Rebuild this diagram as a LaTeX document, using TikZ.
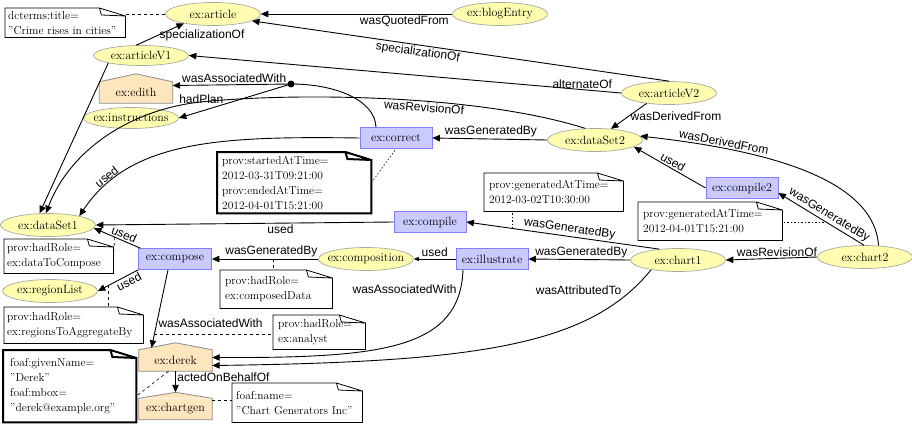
\documentclass[tikz,border=0pt]{standalone}
\usepackage{xcolor}
\usepackage{fontspec}
\setsansfont{Liberation Sans}
\usepackage{tikz}
\usetikzlibrary{arrows.meta,shapes.geometric}
\definecolor{entfill}{HTML}{FFFDB0}
\definecolor{entline}{HTML}{A8A8A0}
\definecolor{actfill}{HTML}{CACAFF}
\definecolor{actline}{HTML}{8080FF}
\definecolor{agtfill}{HTML}{FDE5BD}
\definecolor{agtline}{HTML}{8C8C8C}
\newcommand{\provtxt}{\fontsize{12}{15}\selectfont}
\newcommand{\provnote}{\fontsize{11.5}{15}\selectfont}
\newcommand{\provrel}{\sffamily\fontsize{12}{14}\selectfont}

\begin{document}
\begin{tikzpicture}[x=1pt,y=-1pt,
  ent/.style={ellipse, draw=entline, fill=entfill, line width=0.7pt, minimum width=95pt, minimum height=23pt, inner xsep=-8pt, inner ysep=0pt, font=\provtxt},
  act/.style={rectangle, draw=actline, fill=actfill, line width=0.8pt, minimum width=72pt, minimum height=21pt, inner sep=0pt, font=\provtxt},
  agt/.style={rectangle, fill=agtfill, minimum width=73pt, minimum height=21pt, inner sep=0pt, font=\provtxt},
  note/.style={rectangle, fill=white, anchor=north west, align=left, inner xsep=5pt, inner ysep=0pt, font=\provnote},
  lbl/.style={font=\provrel, inner sep=1.5pt},
  rel/.style={-{Triangle[length=7.5pt,width=6.5pt]}, line width=0.9pt},
  smalltip/.style={-{Triangle[length=5pt,width=4pt]}},
  link/.style={line width=0.6pt, dash pattern=on 3pt off 3pt},
  dotlink/.style={line width=0.6pt, dash pattern=on 1.5pt off 2pt}]
\useasboundingbox[fill=white] (0,0) rectangle (912,423);

%entities
\node[ent] (article) at (213,14) {ex:article};
\node[ent] (blogEntry) at (500,14) {ex:blogEntry};
\node[ent, minimum height=20pt] (articleV1) at (141,55.5) {ex:articleV1};
\node[ent] (articleV2) at (669,93) {ex:articleV2};
\node[ent, minimum height=21pt] (instructions) at (131,118) {ex:instructions};
\node[ent] (dataSet2) at (595,140) {ex:dataSet2};
\node[ent] (dataSet1) at (48,225) {ex:dataSet1};
\node[ent] (regionList) at (50,291) {ex:regionList};
\node[ent] (composition) at (366,259) {ex:composition};
\node[ent] (chart1) at (678,260) {ex:chart1};
\node[ent] (chart2) at (865,257) {ex:chart2};

%activities
\node[act] (correct) at (396,138) {ex:correct};
\node[act] (compile) at (430,222) {ex:compile};
\node[act] (compile2) at (742,188) {ex:compile2};
\node[act] (illustrate) at (492,259) {ex:illustrate};
\node[act, minimum width=73pt] (compose) at (175,259) {ex:compose};

%agents
\node[agt] (edith) at (136,92.5) {ex:edith};
\node[agt] (derek) at (175.5,360.5) {ex:derek};
\node[agt] (chartgen) at (175.5,409) {ex:chartgen};
\foreach \a/\r in {edith/8, derek/7, chartgen/6}{
  \fill[agtfill] (\a.north west) -- ([yshift=\r pt]\a.north) -- (\a.north east) -- cycle;
  \draw[agtline, line width=0.8pt] (\a.south west) -- (\a.north west) -- ([yshift=\r pt]\a.north) -- (\a.north east) -- (\a.south east) -- cycle;
}

%notes
\node[note, inner xsep=3pt, text width=114pt, minimum height=29pt] (nTitle) at (5,8) {dcterms:title=\\"Crime rises in cities"};
\node[note, text width=144pt, minimum height=61pt] (nTimes) at (217,152) {prov:startedAtTime=\\2012-03-31T09:21:00\\prov:endedAtTime=\\2012-04-01T15:21:00};
\node[note, text width=129pt, minimum height=38pt] (nGen1) at (484,173) {prov:generatedAtTime=\\2012-03-02T10:30:00};
\node[note, text width=134pt, minimum height=38pt] (nGen2) at (638,202) {prov:generatedAtTime=\\2012-04-01T15:21:00};
\node[note, inner xsep=3pt, text width=103pt, minimum height=34pt] (nToCompose) at (4,239) {prov:hadRole=\\ex:dataToCompose};
\node[note, inner xsep=3pt, text width=133pt, minimum height=36pt] (nRegions) at (4,307) {prov:hadRole=\\ex:regionsToAggregateBy};
\node[note, text width=102pt, minimum height=38pt] (nComposed) at (220,270) {prov:hadRole=\\ex:composedData};
\node[note, text width=82pt, minimum height=34pt] (nAnalyst) at (273,315) {prov:hadRole=\\ex:analyst};
\node[note, inner xsep=7pt, text width=119pt, minimum height=72pt] (nDerek) at (3,350) {foaf:givenName=\\"Derek"\\foaf:mbox=\\"derek@example.org"};
\node[note, inner xsep=4pt, text width=122pt, minimum height=39pt] (nChartgen) at (232,383) {foaf:name=\\"Chart Generators Inc"};
\foreach \n/\w in {nTitle/0.8, nTimes/2, nGen1/0.8, nGen2/0.8, nToCompose/0.8, nRegions/0.8, nComposed/0.8, nAnalyst/0.8, nDerek/2, nChartgen/0.8}{
  \draw[line width=\w pt] (\n.south west) -- (\n.north west) -- ([xshift=-26pt]\n.north east) -- ([yshift=-8pt]\n.north east) -- (\n.south east) -- cycle
    ([xshift=-26pt]\n.north east) -- ([xshift=-24pt,yshift=-7pt]\n.north east) -- ([yshift=-8pt]\n.north east);
}

%relations
\draw[rel] (blogEntry) -- node[lbl, below, pos=0.25] {wasQuotedFrom} (article);
\draw[rel] (articleV1.115) -- node[lbl, right, pos=0.45] {specializationOf} (article.198);
\draw[rel] (articleV2.north) -- node[lbl, sloped, below, pos=0.6] {specializationOf} (article.-10);
\draw[rel] (articleV2.west) -- node[lbl, above, pos=0.09, inner sep=0.5pt] {alternateOf} (articleV1.east);
\draw[rel] (articleV2.205) -- node[lbl, right, pos=0.5] {wasDerivedFrom} (dataSet2.35);

%association with plan
\coordinate (plan) at (291,84);
\draw[line width=0.9pt] ([xshift=-20pt]correct.north) .. controls (375,100) and (335,84) .. (plan);
\fill (plan) circle (3.5pt);
\draw[rel] (plan) -- node[lbl, above, pos=0.48] {wasAssociatedWith} ([yshift=7pt]edith.east);
\draw[rel] (plan) -- node[lbl, above=6pt, pos=0.8] {hadPlan} (instructions.east);

\draw[rel] (dataSet2.west) -- node[lbl, above, pos=0.49] {wasGeneratedBy} (correct.east);
\draw[rel] (dataSet2.130) .. controls (480,95) and (300,92) .. (200,102) node[lbl, sloped, below, pos=0.42] {wasRevisionOf}
  .. controls (130,110) and (70,150) .. (dataSet1.100);
\draw[rel] (articleV1.193) -- (dataSet1.126);
\draw[rel] (correct.west) .. controls (220,136) and (130,140) .. (dataSet1.16) node[lbl, sloped, above, pos=0.82] {used};
\draw[rel] (compile.west) -- node[lbl, below, pos=0.38] {used} (dataSet1.east);
\draw[rel] ([xshift=2pt]compose.north west) -- node[lbl, sloped, above, pos=0.4] {used} coordinate[pos=0.55] (useA) (dataSet1.-4);
\draw[rel] (compose.south west) -- node[lbl, sloped, below, pos=0.3] {used} coordinate[pos=0.73] (useB) (regionList.east);
\draw[rel] (composition.west) -- node[lbl, above, pos=0.44] {wasGeneratedBy} coordinate[pos=0.42] (genA) (compose.east);
\draw[rel, smalltip] (illustrate.west) -- node[lbl, above, pos=0.5] {used} (composition.east);
\draw[rel] ([xshift=-7pt]compose.south) -- node[lbl, right, pos=0.69] {wasAssociatedWith} coordinate[pos=0.83] (assocA) ([xshift=-24pt,yshift=2pt]derek.north);
\draw[rel] ([xshift=-29pt]illustrate.south) .. controls (460,350) and (380,358) .. ([yshift=3pt]derek.east) node[lbl, anchor=south east, pos=0.12] {wasAssociatedWith};
\draw[rel] (chart1.200) .. controls (590,345) and (480,362) .. ([yshift=-5pt]derek.east) node[lbl, anchor=east, pos=0.1, xshift=-8pt] {wasAttributedTo};
\draw[rel] (chart1.west) -- node[lbl, above, pos=0.48] {wasGeneratedBy} (illustrate.east);
\draw[rel] (chart1.150) -- node[lbl, sloped, above, pos=0.47] {wasGeneratedBy} coordinate[pos=0.76] (genB) (compile.east);
\draw[rel] (chart2.west) -- node[lbl, above, pos=0.44] {wasRevisionOf} (chart1.east);
\draw[rel] (chart2.95) -- node[lbl, sloped, above, pos=0.45] {wasGeneratedBy} coordinate[pos=0.43] (genC) ([yshift=-5pt]compile2.east);
\draw[rel] (compile2.west) -- node[lbl, sloped, above, pos=0.5] {used} (dataSet2.-10);
\draw[rel] (chart2.40) .. controls (874,178) and (765,150) .. (dataSet2.5) node[lbl, sloped, above, pos=0.77] {wasDerivedFrom};
\draw[rel] (derek.south) -- node[lbl, right, pos=0.3] {actedOnBehalfOf} ([yshift=6pt]chartgen.north);

%note links
\draw[link] (article.west) -- (article.west -| nTitle.east);
\draw[dotlink] (nTimes.east) -- (correct.south);
\draw[link] (useA) -- (nToCompose.east);
\draw[link] (useB) -- (useB |- nRegions.north);
\draw[link] (genA) -- (genA |- nComposed.north);
\draw[link] (assocA) -- (assocA -| nAnalyst.west);
\draw[dotlink] (genB) -- (genB |- nGen1.south);
\draw[dotlink] (genC) -- (genC -| nGen2.east);
\draw[link] ([xshift=-7pt]derek.south) -- ([yshift=-10pt]nDerek.east);
\draw[link] ([yshift=9pt]chartgen.east) -- ([yshift=9pt]chartgen.east -| nChartgen.west);
\end{tikzpicture}
\end{document}
